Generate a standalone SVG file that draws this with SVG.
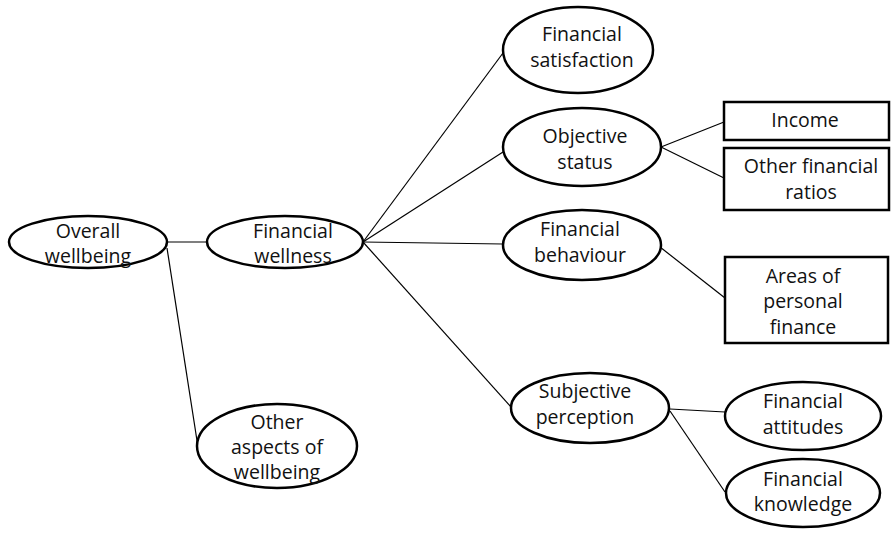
<svg xmlns="http://www.w3.org/2000/svg" width="891" height="540" viewBox="0 0 891 540">
<style>
.n{fill:#fff;stroke:#000;stroke-width:2.5}
.c line{stroke:#000;stroke-width:1.2}
text{font-family:"Open Sans","Liberation Sans",sans-serif;font-size:19.5px;fill:#111;text-anchor:middle}
</style>
<rect width="891" height="540" fill="#fff"/>
<g id="connectors" class="c">
<line x1="167" y1="242" x2="207" y2="242"/>
<line x1="167" y1="248" x2="198" y2="447"/>
<line x1="363" y1="242" x2="503" y2="53"/>
<line x1="363" y1="242" x2="503" y2="152"/>
<line x1="363" y1="242" x2="503" y2="244"/>
<line x1="363" y1="242" x2="511" y2="407"/>
<line x1="661" y1="147" x2="724" y2="122"/>
<line x1="661" y1="147" x2="724" y2="178"/>
<line x1="660" y1="247" x2="725" y2="298"/>
<line x1="670" y1="409" x2="725" y2="412"/>
<line x1="670" y1="411" x2="725" y2="492"/>
</g>
<g id="overall"><ellipse class="n" cx="88" cy="242" rx="79" ry="26"/><text x="88" y="238">Overall</text><text x="88" y="263">wellbeing</text></g>
<g id="fin-wellness"><ellipse class="n" cx="285" cy="242" rx="78" ry="26"/><text x="293" y="238">Financial</text><text x="293" y="263">wellness</text></g>
<g id="other-aspects"><ellipse class="n" cx="277" cy="446" rx="80" ry="42"/><text x="277" y="429">Other</text><text x="277" y="454">aspects of</text><text x="277" y="479">wellbeing</text></g>
<g id="fin-satisfaction"><ellipse class="n" cx="578" cy="50" rx="75" ry="43"/><text x="582" y="41">Financial</text><text x="582" y="67">satisfaction</text></g>
<g id="objective"><ellipse class="n" cx="582" cy="147" rx="79" ry="39"/><text x="585" y="143">Objective</text><text x="585" y="169">status</text></g>
<g id="income"><rect class="n" x="724" y="102" width="165" height="38"/><text x="805" y="127">Income</text></g>
<g id="ratios"><rect class="n" x="724" y="148" width="165" height="62"/><text x="811" y="173">Other financial</text><text x="811" y="199">ratios</text></g>
<g id="behaviour"><ellipse class="n" cx="582" cy="245" rx="79" ry="35"/><text x="580" y="236">Financial</text><text x="580" y="262">behaviour</text></g>
<g id="areas"><rect class="n" x="725" y="257" width="163" height="86"/><text x="803" y="283">Areas of</text><text x="803" y="308">personal</text><text x="803" y="334">finance</text></g>
<g id="subjective"><ellipse class="n" cx="590" cy="408" rx="79" ry="35"/><text x="585" y="398">Subjective</text><text x="585" y="424">perception</text></g>
<g id="attitudes"><ellipse class="n" cx="803" cy="416" rx="78" ry="34"/><text x="803" y="408">Financial</text><text x="803" y="434">attitudes</text></g>
<g id="knowledge"><ellipse class="n" cx="803" cy="493" rx="77" ry="34"/><text x="803" y="486">Financial</text><text x="803" y="511">knowledge</text></g>
</svg>
